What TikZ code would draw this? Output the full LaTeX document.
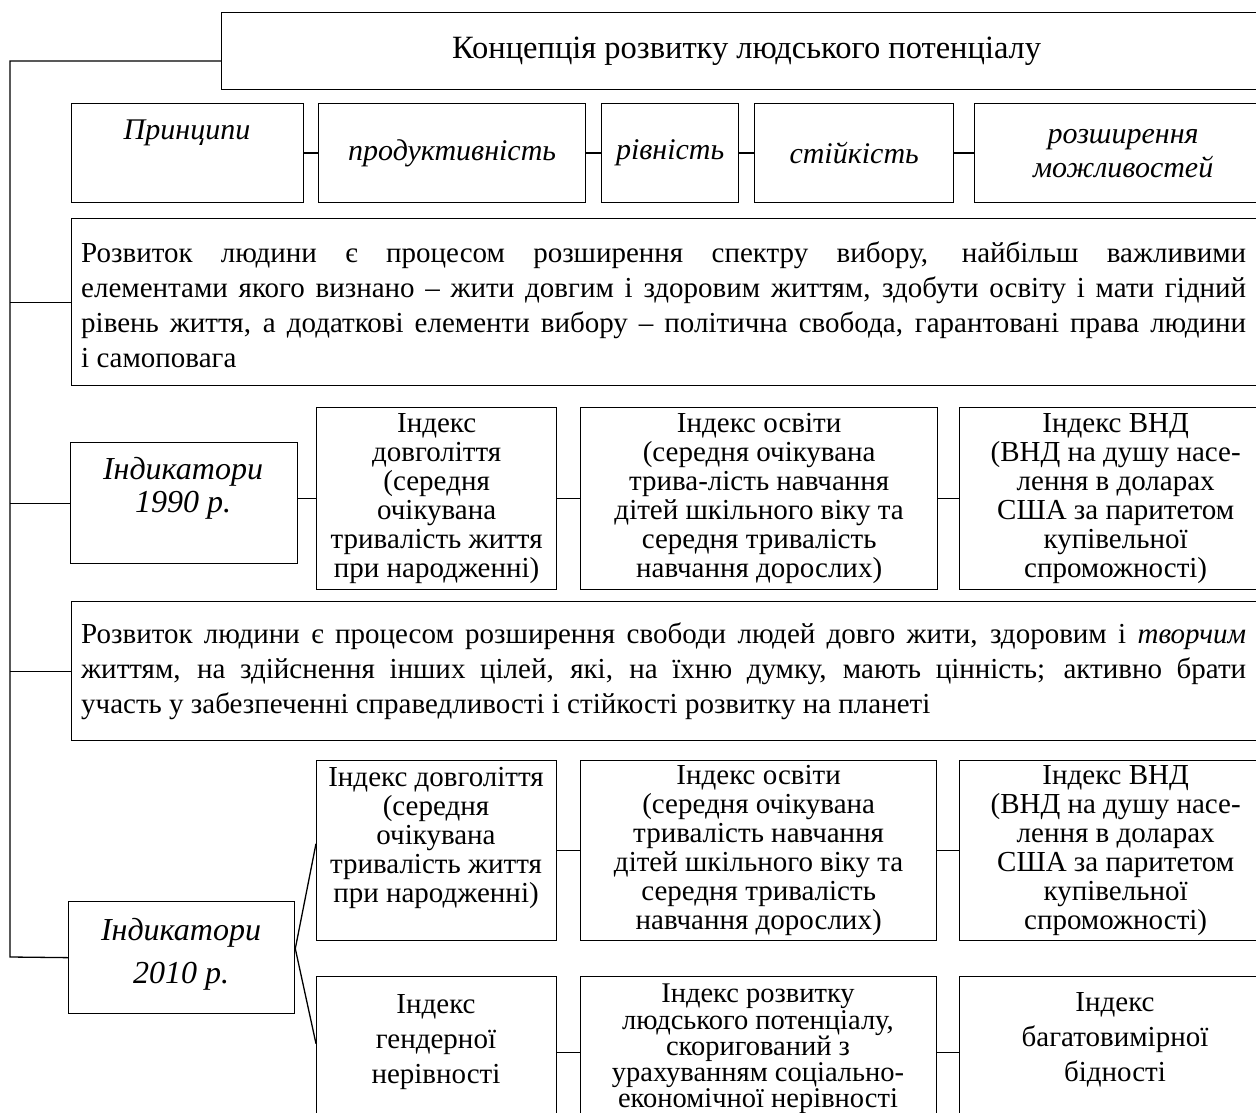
\documentclass[tikz,border=0pt]{standalone}
\usepackage{fontspec}
\setmainfont{Liberation Serif}
\usetikzlibrary{calc}
\begin{document}
\begin{tikzpicture}[x=1pt,y=-1pt,
  bx/.style={draw, line width=1.3pt, rectangle, inner sep=0pt, anchor=north west},
  ln/.style={line width=1.3pt, line join=miter},
  tx/.style={font=\fontsize{29}{29}\selectfont, align=center, inner sep=0pt},
  itx/.style={font=\fontsize{30}{34}\selectfont\itshape, align=center, inner sep=0pt},
  ptxt/.style={font=\fontsize{29}{35}\selectfont, align=left, inner sep=0pt, anchor=north west}]
\useasboundingbox (0,0) rectangle (1256,1113);
\clip (0,0) rectangle (1256,1113);
% title
\node[bx, minimum width=1050pt, minimum height=77pt, font=\fontsize{32.5}{34}\selectfont] (title) at (221,12) {Концепція розвитку людського потенціалу};
% row 1
\node[bx, minimum width=232pt, minimum height=99pt] (pr) at (71,103) {};
\node[itx] (prT) at (187,133) {Принципи};
\node[bx, minimum width=267pt, minimum height=99pt, itx] (prod) at (318,103) {продуктивність};
\node[bx, minimum width=137pt, minimum height=99pt, itx] (riv) at (601,103) {рівність};
\node[bx, minimum width=199pt, minimum height=99pt, itx] (stiy) at (754,103) {стійкість};
\node[bx, minimum width=297pt, minimum height=99pt, itx] (rozsh) at (974,103) {розширення\\можливостей};
% paragraph 1
\node[bx, minimum width=1200pt, minimum height=167pt] (par1) at (71,218) {};
\node[ptxt] (par1T) at (81,242) {%
\makebox[1165pt][s]{Розвиток людини є процесом розширення спектру вибору, найбільш важливими}\\
\makebox[1165pt][s]{елементами якого визнано – жити довгим і здоровим життям, здобути освіту і мати гідний}\\
\makebox[1165pt][s]{рівень життя, а додаткові елементи вибору – політична свобода, гарантовані права людини}\\
і самоповага};
% 1990 row
\node[bx, minimum width=227pt, minimum height=121pt] (ind90) at (70,442) {};
\node[itx, font=\fontsize{32}{33}\selectfont\itshape] (ind90T) at (183,488) {Індикатори\\1990 р.};
\node[bx, minimum width=240pt, minimum height=182pt, tx] (dov90) at (316,407) {Індекс\\довголіття\\(середня\\очікувана\\тривалість життя\\при народженні)};
\node[bx, minimum width=357pt, minimum height=182pt, tx] (osv90) at (580,407) {Індекс освіти\\(середня очікувана\\трива-лість навчання\\дітей шкільного віку та\\середня тривалість\\навчання дорослих)};
\node[bx, minimum width=312pt, minimum height=182pt, tx] (vnd90) at (959,407) {Індекс ВНД\\(ВНД на душу насе-\\лення в доларах\\США за паритетом\\купівельної\\спроможності)};
% paragraph 2
\node[bx, minimum width=1200pt, minimum height=139pt] (par2) at (71,601) {};
\node[ptxt] (par2T) at (81,623) {%
\makebox[1165pt][s]{Розвиток людини є процесом розширення свободи людей довго жити, здоровим і \textit{творчим}}\\
\makebox[1165pt][s]{життям, на здійснення інших цілей, які, на їхню думку, мають цінність; активно брати}\\
участь у забезпеченні справедливості і стійкості розвитку на планеті};
% 2010 rows
\node[bx, minimum width=240pt, minimum height=180pt] (dov10) at (316,760) {};
\node[tx] (dov10T) at (436,838) {Індекс довголіття\\(середня\\очікувана\\тривалість життя\\при народженні)};
\node[bx, minimum width=356pt, minimum height=180pt, tx] (osv10) at (580,760) {Індекс освіти\\(середня очікувана\\тривалість навчання\\дітей шкільного віку та\\середня тривалість\\навчання дорослих)};
\node[bx, minimum width=312pt, minimum height=180pt, tx] (vnd10) at (959,760) {Індекс ВНД\\(ВНД на душу насе-\\лення в доларах\\США за паритетом\\купівельної\\спроможності)};
\node[bx, minimum width=226pt, minimum height=112pt] (ind10) at (68,901) {};
\node[itx, font=\fontsize{32}{43}\selectfont\itshape] (ind10T) at (181,954) {Індикатори\\2010 р.};
\node[bx, minimum width=240pt, minimum height=152pt] (gen) at (316,976) {};
\node[tx, font=\fontsize{29}{35}\selectfont] (genT) at (436,1042) {Індекс\\гендерної\\нерівності};
\node[bx, minimum width=356pt, minimum height=152pt] (irlp) at (580,976) {};
\node[tx, font=\fontsize{28.5}{24.5}\selectfont] (irlpT) at (758,1049) {Індекс розвитку\\людського потенціалу,\\скоригований з\\урахуванням соціально-\\економічної нерівності};
\node[bx, minimum width=312pt, minimum height=152pt] (bag) at (959,976) {};
\node[tx, font=\fontsize{29}{35}\selectfont] (bagT) at (1115,1040) {Індекс\\багатовимірної\\бідності};
% trunk
\coordinate (trA) at (10,61);
\coordinate (trB) at (10,957);
\draw[ln] (title.west |- trA) -- (trA) -- (trB) -- (ind10.west);
\draw[ln] (trA |- par1.west) -- (par1.west);
\draw[ln] (trA |- ind90.west) -- (ind90.west);
\draw[ln] (trA |- par2.west) -- (par2.west);
% row connectors
\draw[ln] (pr.east) -- (prod.west);
\draw[ln] (prod.east) -- (riv.west);
\draw[ln] (riv.east) -- (stiy.west);
\draw[ln] (stiy.east) -- (rozsh.west);
\draw[ln] (ind90.east |- dov90.west) -- (dov90.west);
\draw[ln] (dov90.east) -- (osv90.west);
\draw[ln] (osv90.east) -- (vnd90.west);
\draw[ln] (dov10.east) -- (osv10.west);
\draw[ln] (osv10.east) -- (vnd10.west);
\draw[ln] (gen.east) -- (irlp.west);
\draw[ln] (irlp.east) -- (bag.west);
\draw[ln] ([yshift=7pt]dov10.west) -- ([yshift=9pt]ind10.east) -- ([yshift=9pt]gen.west);
\end{tikzpicture}
\end{document}
